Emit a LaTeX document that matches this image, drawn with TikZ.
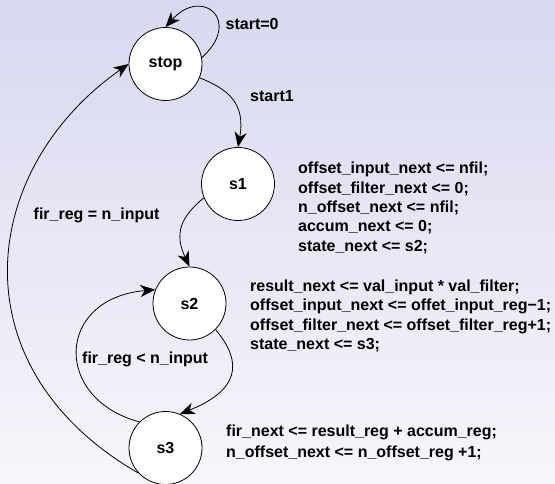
\documentclass[tikz,border=0pt]{standalone}
\usepackage{fontspec}
\setmainfont{Liberation Sans}
\usetikzlibrary{arrows.meta}
\definecolor{bgtop}{RGB}{216,216,240}
\definecolor{bgbot}{RGB}{246,246,251}
\begin{document}
\begin{tikzpicture}[x=1pt,y=1pt,
  statenode/.style={circle,draw=black,fill=white,line width=0.8pt,minimum size=73pt,inner sep=0pt,font=\bfseries\fontsize{16}{19.4}\selectfont},
  lbl/.style={anchor=west,inner sep=0pt,font=\bfseries\fontsize{16}{19.4}\selectfont},
  codeblock/.style={anchor=west,inner sep=0pt,align=left,font=\bfseries\fontsize{16}{19.4}\selectfont},
  trans/.style={draw=black,line width=0.8pt,-{Stealth[length=15pt,width=12pt,inset=4.5pt]}}]
\useasboundingbox (0,0) rectangle (555,484);
\shade[top color=bgtop,bottom color=bgbot] (0,0) rectangle (555,484);
\node[statenode] (stop) at (165.5,420) {stop};
\node[statenode] (s1) at (238,300) {s1};
\node[statenode] (s2) at (189.5,180.5) {s2};
\node[statenode] (s3) at (165.5,36) {s3};
\draw[trans] (stop.10) to[out=42,in=48,distance=55pt] (stop.90);
\draw[trans] (stop.-22) to[out=-22,in=80,out distance=30pt,in distance=45pt] (s1.90);
\draw[trans] (s1.202) to[out=220,in=115,out distance=30pt,in distance=37pt] (s2.90);
\draw[trans] (s2.-45) to[out=-50,in=22,out distance=45pt,in distance=62pt] (s3.67);
\draw[trans] (s3.135) to[out=165,in=185,out distance=90pt,in distance=100pt] (s2.158);
\draw[trans] (s3.223) to[out=150,in=215,out distance=213pt,in distance=182pt] (stop.180);
\node[lbl] (l0) at (225.5,459.5) {start=0};
\node[lbl] (l1) at (250,388) {start1};
\node[lbl] (l2) at (33.5,268.5) {fir\_reg = n\_input};
\node[lbl] (l3) at (82,124.7) {fir\_reg < n\_input};
\node[codeblock] (c1) at (298,276) {offset\_input\_next <= nfil;\\offset\_filter\_next <= 0;\\n\_offset\_next <= nfil;\\accum\_next <= 0;\\state\_next <= s2;};
\node[codeblock] (c2) at (250,168) {result\_next <= val\_input * val\_filter;\\offset\_input\_next <= offet\_input\_reg−1;\\offset\_filter\_next <= offset\_filter\_reg+1;\\state\_next <= s3;};
\node[codeblock,font=\bfseries\fontsize{16}{20.7}\selectfont] (c3) at (226,41) {fir\_next <= result\_reg + accum\_reg;\\n\_offset\_next <= n\_offset\_reg +1;};
\end{tikzpicture}
\end{document}
